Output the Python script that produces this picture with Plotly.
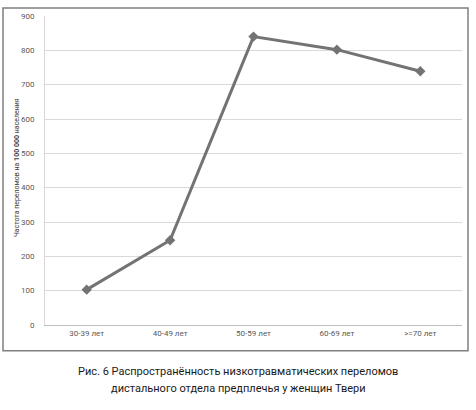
import plotly.graph_objects as go

# возрастные группы и частота переломов на 100 000 населения
age_groups = ['30-39 лет', '40-49 лет', '50-59 лет', '60-69 лет', '>=70 лет']
fracture_rate = [103, 247, 840, 802, 739]
y_ticks = [0, 100, 200, 300, 400, 500, 600, 700, 800, 900]

caption_lines = [
    'Рис. 6 Распространённость низкотравматических переломов',
    'дистального отдела предплечья у женщин Твери',
]

FONT = "Roboto, Noto Sans, sans-serif"
TICK_COLOR = '#595959'

fig = go.Figure()

fig.add_trace(go.Scatter(
    x=age_groups,
    y=fracture_rate,
    mode='lines+markers',
    line=dict(color='#737373', width=3),
    marker=dict(symbol='diamond', size=8, color='#737373'),
    showlegend=False,
))

fig.update_layout(
    width=476,
    height=410,
    margin=dict(l=45, r=14, t=12, b=85),
    paper_bgcolor='white',
    plot_bgcolor='white',
    font=dict(family=FONT, color=TICK_COLOR, size=8),
    xaxis=dict(
        range=[-0.5, 4.5],
        showgrid=False,
        showline=True,
        linecolor='#bfbfbf',
        linewidth=1,
        ticks='',
        tickfont=dict(size=8, color=TICK_COLOR),
    ),
    yaxis=dict(
        range=[0, 900],
        tickvals=y_ticks,
        showgrid=True,
        gridcolor='#d9d9d9',
        gridwidth=1,
        showline=True,
        linecolor='#d9d9d9',
        linewidth=1,
        zeroline=False,
        ticks='',
        ticklabelstandoff=8,
        tickfont=dict(size=8, color=TICK_COLOR),
    ),
)

# рамка вокруг диаграммы
fig.add_shape(
    type='rect', xref='paper', yref='paper',
    x0=-0.1007, x1=1.0144, y0=-0.0831, y1=1.0256,
    line=dict(color='#7f7f7f', width=1.5),
)

# подпись оси Y
fig.add_annotation(
    x=-0.067, y=0.508, xref='paper', yref='paper',
    xanchor='center', yanchor='middle',
    text='Частота переломов на <b>100 000</b> населения',
    textangle=-90, showarrow=False,
    font=dict(size=7, color='#404040', family=FONT),
)

# подпись рисунка (две строки)
for line, y in zip(caption_lines, [-0.150, -0.2045]):
    fig.add_annotation(
        x=0.463, y=y, xref='paper', yref='paper',
        xanchor='center', yanchor='middle',
        text=line, showarrow=False,
        font=dict(size=11, color='#1a1a1a', family=FONT),
    )

fig.write_html(
    "out.html",
    config={'displayModeBar': False},
    post_script="document.body.style.margin='0';",
)
